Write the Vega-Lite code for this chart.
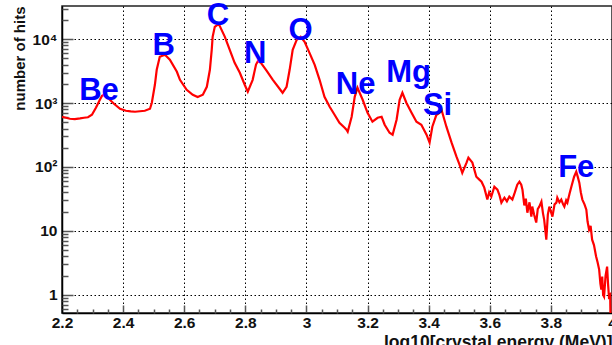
{
  "$schema": "https://vega.github.io/schema/vega-lite/v6.json",
  "width": 550,
  "height": 307,
  "autosize": {"type": "none"},
  "padding": {"left": 62, "top": 6, "right": 0, "bottom": 32},
  "background": "white",
  "config": {
    "view": {"stroke": "#222", "strokeWidth": 1.5},
    "font": "Liberation Sans",
    "axis": {
      "labelFont": "Liberation Sans",
      "labelFontWeight": "bold",
      "labelFontSize": 15.5,
      "labelColor": "#111",
      "titleFont": "Liberation Sans",
      "titleFontWeight": "bold",
      "titleFontSize": 15,
      "titleColor": "#111",
      "domainColor": "#000",
      "domainWidth": 1.5,
      "tickColor": "#555",
      "tickWidth": 1.5,
      "gridColor": "#000",
      "gridOpacity": 1,
      "gridWidth": 1,
      "gridDash": [1.5, 2.5]
    }
  },
  "datasets": {
    "hist": [
      {"energy": 2.200, "hits": 611}, {"energy": 2.213, "hits": 590}, {"energy": 2.226, "hits": 569}, {"energy": 2.242, "hits": 560},
      {"energy": 2.259, "hits": 575}, {"energy": 2.272, "hits": 590}, {"energy": 2.285, "hits": 600}, {"energy": 2.298, "hits": 656},
      {"energy": 2.311, "hits": 845}, {"energy": 2.324, "hits": 1127}, {"energy": 2.331, "hits": 1300}, {"energy": 2.337, "hits": 1349},
      {"energy": 2.350, "hits": 1211}, {"energy": 2.370, "hits": 975}, {"energy": 2.390, "hits": 815}, {"energy": 2.409, "hits": 758},
      {"energy": 2.425, "hits": 740}, {"energy": 2.439, "hits": 731}, {"energy": 2.455, "hits": 745}, {"energy": 2.471, "hits": 758},
      {"energy": 2.488, "hits": 815}, {"energy": 2.494, "hits": 1011}, {"energy": 2.504, "hits": 1932}, {"energy": 2.510, "hits": 3313},
      {"energy": 2.520, "hits": 5285}, {"energy": 2.537, "hits": 5686}, {"energy": 2.553, "hits": 4753}, {"energy": 2.576, "hits": 3083},
      {"energy": 2.586, "hits": 2312}, {"energy": 2.608, "hits": 1614}, {"energy": 2.628, "hits": 1349}, {"energy": 2.644, "hits": 1241},
      {"energy": 2.661, "hits": 1349}, {"energy": 2.674, "hits": 1798}, {"energy": 2.684, "hits": 3313}, {"energy": 2.690, "hits": 6808},
      {"energy": 2.693, "hits": 10870}, {"energy": 2.700, "hits": 15560}, {"energy": 2.713, "hits": 17340}, {"energy": 2.733, "hits": 10870},
      {"energy": 2.749, "hits": 6808}, {"energy": 2.765, "hits": 4266}, {"energy": 2.782, "hits": 2974}, {"energy": 2.798, "hits": 1932},
      {"energy": 2.808, "hits": 1502}, {"energy": 2.824, "hits": 2312}, {"energy": 2.835, "hits": 4000}, {"energy": 2.841, "hits": 4500},
      {"energy": 2.851, "hits": 4266}, {"energy": 2.870, "hits": 3200}, {"energy": 2.890, "hits": 2312}, {"energy": 2.922, "hits": 1449},
      {"energy": 2.935, "hits": 1798}, {"energy": 2.945, "hits": 3313}, {"energy": 2.955, "hits": 6808}, {"energy": 2.968, "hits": 9750},
      {"energy": 2.981, "hits": 10870}, {"energy": 2.994, "hits": 9078}, {"energy": 3.010, "hits": 6110}, {"energy": 3.027, "hits": 3963},
      {"energy": 3.043, "hits": 2312}, {"energy": 3.059, "hits": 1253}, {"energy": 3.076, "hits": 875}, {"energy": 3.092, "hits": 656},
      {"energy": 3.108, "hits": 492}, {"energy": 3.125, "hits": 411}, {"energy": 3.131, "hits": 383}, {"energy": 3.135, "hits": 356},
      {"energy": 3.148, "hits": 611}, {"energy": 3.158, "hits": 1253}, {"energy": 3.167, "hits": 1734}, {"energy": 3.184, "hits": 1127},
      {"energy": 3.200, "hits": 705}, {"energy": 3.216, "hits": 511}, {"energy": 3.233, "hits": 589}, {"energy": 3.246, "hits": 611},
      {"energy": 3.256, "hits": 458}, {"energy": 3.272, "hits": 343}, {"energy": 3.282, "hits": 320}, {"energy": 3.295, "hits": 548},
      {"energy": 3.305, "hits": 1127}, {"energy": 3.314, "hits": 1449}, {"energy": 3.327, "hits": 1011}, {"energy": 3.344, "hits": 705},
      {"energy": 3.360, "hits": 511}, {"energy": 3.376, "hits": 458}, {"energy": 3.393, "hits": 320}, {"energy": 3.403, "hits": 240},
      {"energy": 3.412, "hits": 427}, {"energy": 3.425, "hits": 650}, {"energy": 3.435, "hits": 700}, {"energy": 3.442, "hits": 786},
      {"energy": 3.458, "hits": 427}, {"energy": 3.475, "hits": 240}, {"energy": 3.491, "hits": 145}, {"energy": 3.501, "hits": 109},
      {"energy": 3.510, "hits": 81}, {"energy": 3.524, "hits": 117}, {"energy": 3.530, "hits": 140}, {"energy": 3.543, "hits": 117},
      {"energy": 3.556, "hits": 70.5}, {"energy": 3.565, "hits": 64}, {"energy": 3.573, "hits": 58.9}, {"energy": 3.582, "hits": 47.5},
      {"energy": 3.592, "hits": 30.9}, {"energy": 3.598, "hits": 40}, {"energy": 3.605, "hits": 34.4}, {"energy": 3.615, "hits": 49.2},
      {"energy": 3.625, "hits": 44.2}, {"energy": 3.632, "hits": 36}, {"energy": 3.638, "hits": 27.7}, {"energy": 3.648, "hits": 33.1},
      {"energy": 3.656, "hits": 29}, {"energy": 3.664, "hits": 34.4}, {"energy": 3.674, "hits": 30.9}, {"energy": 3.682, "hits": 40},
      {"energy": 3.690, "hits": 52.9}, {"energy": 3.697, "hits": 58.9}, {"energy": 3.703, "hits": 52.9}, {"energy": 3.707, "hits": 44},
      {"energy": 3.713, "hits": 25}, {"energy": 3.718, "hits": 32}, {"energy": 3.723, "hits": 19.3}, {"energy": 3.730, "hits": 28},
      {"energy": 3.736, "hits": 16.7}, {"energy": 3.739, "hits": 24}, {"energy": 3.745, "hits": 18}, {"energy": 3.752, "hits": 13.5},
      {"energy": 3.757, "hits": 22}, {"energy": 3.762, "hits": 24}, {"energy": 3.769, "hits": 28.7}, {"energy": 3.774, "hits": 19},
      {"energy": 3.778, "hits": 15.0}, {"energy": 3.785, "hits": 7.3}, {"energy": 3.790, "hits": 18}, {"energy": 3.795, "hits": 24},
      {"energy": 3.800, "hits": 20}, {"energy": 3.805, "hits": 16.7}, {"energy": 3.812, "hits": 26}, {"energy": 3.818, "hits": 27.7},
      {"energy": 3.821, "hits": 33.1}, {"energy": 3.828, "hits": 28}, {"energy": 3.834, "hits": 30.9}, {"energy": 3.840, "hits": 26},
      {"energy": 3.844, "hits": 24}, {"energy": 3.850, "hits": 30}, {"energy": 3.854, "hits": 27.7}, {"energy": 3.861, "hits": 38},
      {"energy": 3.867, "hits": 49.2}, {"energy": 3.876, "hits": 70.5}, {"energy": 3.883, "hits": 84.5}, {"energy": 3.888, "hits": 70},
      {"energy": 3.893, "hits": 56.9}, {"energy": 3.898, "hits": 40}, {"energy": 3.903, "hits": 30.9}, {"energy": 3.910, "hits": 26},
      {"energy": 3.916, "hits": 21.5}, {"energy": 3.920, "hits": 14}, {"energy": 3.925, "hits": 10.5}, {"energy": 3.930, "hits": 12},
      {"energy": 3.935, "hits": 7.3}, {"energy": 3.941, "hits": 6}, {"energy": 3.948, "hits": 3.97}, {"energy": 3.953, "hits": 3.2},
      {"energy": 3.958, "hits": 2.48}, {"energy": 3.962, "hits": 1.5}, {"energy": 3.965, "hits": 1.21}, {"energy": 3.968, "hits": 1.93},
      {"energy": 3.971, "hits": 1.0}, {"energy": 3.974, "hits": 0.94}, {"energy": 3.979, "hits": 2.0}, {"energy": 3.984, "hits": 2.77},
      {"energy": 3.987, "hits": 1.5}, {"energy": 3.990, "hits": 0.94}, {"energy": 3.994, "hits": 1.0}, {"energy": 3.997, "hits": 0.1}
    ],
    "labels": [
      {"energy": 2.321, "hits": 1127, "element": "Be"},
      {"energy": 2.533, "hits": 5686, "element": "B"},
      {"energy": 2.710, "hits": 16700, "element": "C"},
      {"energy": 2.832, "hits": 4266, "element": "N"},
      {"energy": 2.981, "hits": 9750, "element": "O"},
      {"energy": 3.161, "hits": 1397, "element": "Ne"},
      {"energy": 3.334, "hits": 2153, "element": "Mg"},
      {"energy": 3.429, "hits": 656, "element": "Si"},
      {"energy": 3.883, "hits": 70.5, "element": "Fe"}
    ]
  },
  "layer": [
    {
      "data": {"name": "hist"},
      "mark": {"type": "line", "color": "#ff0000", "strokeWidth": 2.2, "clip": true},
      "encoding": {
        "x": {
          "field": "energy", "type": "quantitative",
          "scale": {"domain": [2.2, 4.0], "nice": false, "zero": false},
          "axis": {
            "title": "log10[crystal energy (MeV)]",
            "titleAnchor": "end",
            "titleAlign": "right",
            "titleBaseline": "alphabetic",
            "titleFontSize": 17.5,
            "titleX": 550,
            "titleY": 34,
            "values": [2.2, 2.4, 2.6, 2.8, 3.0, 3.2, 3.4, 3.6, 3.8, 4.0],
            "labelExpr": "datum.value == 3 ? '3' : datum.value == 4 ? '4' : format(datum.value, '.1f')",
            "labelFlush": false,
            "labelOverlap": false,
            "tickSize": -8,
            "labelPadding": 10,
            "grid": true,
            "gridColor": "#000",
            "gridDash": [1.5, 2.5],
            "gridOpacity": 1,
            "gridWidth": 1
          }
        },
        "y": {
          "field": "hits", "type": "quantitative",
          "scale": {"type": "log", "domain": [0.52, 33000], "nice": false},
          "axis": {
            "title": "number of hits",
            "titleAnchor": "end",
            "titleAlign": "right",
            "titleBaseline": "bottom",
            "titleAngle": -90,
            "titleX": -35,
            "titleY": 0,
            "values": [1, 10, 100, 1000, 10000],
            "labelExpr": "datum.value == 1 ? '1' : datum.value == 10 ? '10' : datum.value == 100 ? '10²' : datum.value == 1000 ? '10³' : '10⁴'",
            "tickSize": -11,
            "labelPadding": 16,
            "grid": true,
            "gridColor": "#000",
            "gridDash": [1.5, 2.5],
            "gridOpacity": 1,
            "gridWidth": 1
          }
        }
      }
    },
    {
      "data": {"name": "labels"},
      "mark": {"type": "text", "font": "Liberation Sans", "fontWeight": "bold", "fontSize": 31, "color": "#0000ff", "align": "center", "baseline": "alphabetic"},
      "encoding": {
        "x": {
          "field": "energy", "type": "quantitative",
          "axis": {
            "orient": "bottom",
            "title": null,
            "labels": false,
            "domain": false,
            "grid": false,
            "tickSize": -4,
            "values": [2.25, 2.3, 2.35, 2.45, 2.5, 2.55, 2.65, 2.7, 2.75, 2.85, 2.9, 2.95, 3.05, 3.1, 3.15, 3.25, 3.3, 3.35, 3.45, 3.5, 3.55, 3.65, 3.7, 3.75, 3.85, 3.9, 3.95]
          }
        },
        "y": {
          "field": "hits", "type": "quantitative",
          "axis": {
            "orient": "left",
            "title": null,
            "labels": false,
            "domain": false,
            "grid": false,
            "tickSize": -6,
            "values": [0.6, 0.7, 0.8, 0.9, 2, 3, 4, 5, 6, 7, 8, 9, 20, 30, 40, 50, 60, 70, 80, 90, 200, 300, 400, 500, 600, 700, 800, 900, 2000, 3000, 4000, 5000, 6000, 7000, 8000, 9000, 20000, 30000]
          }
        },
        "text": {"field": "element"}
      }
    }
  ],
  "resolve": {"axis": {"x": "independent", "y": "independent"}}
}
